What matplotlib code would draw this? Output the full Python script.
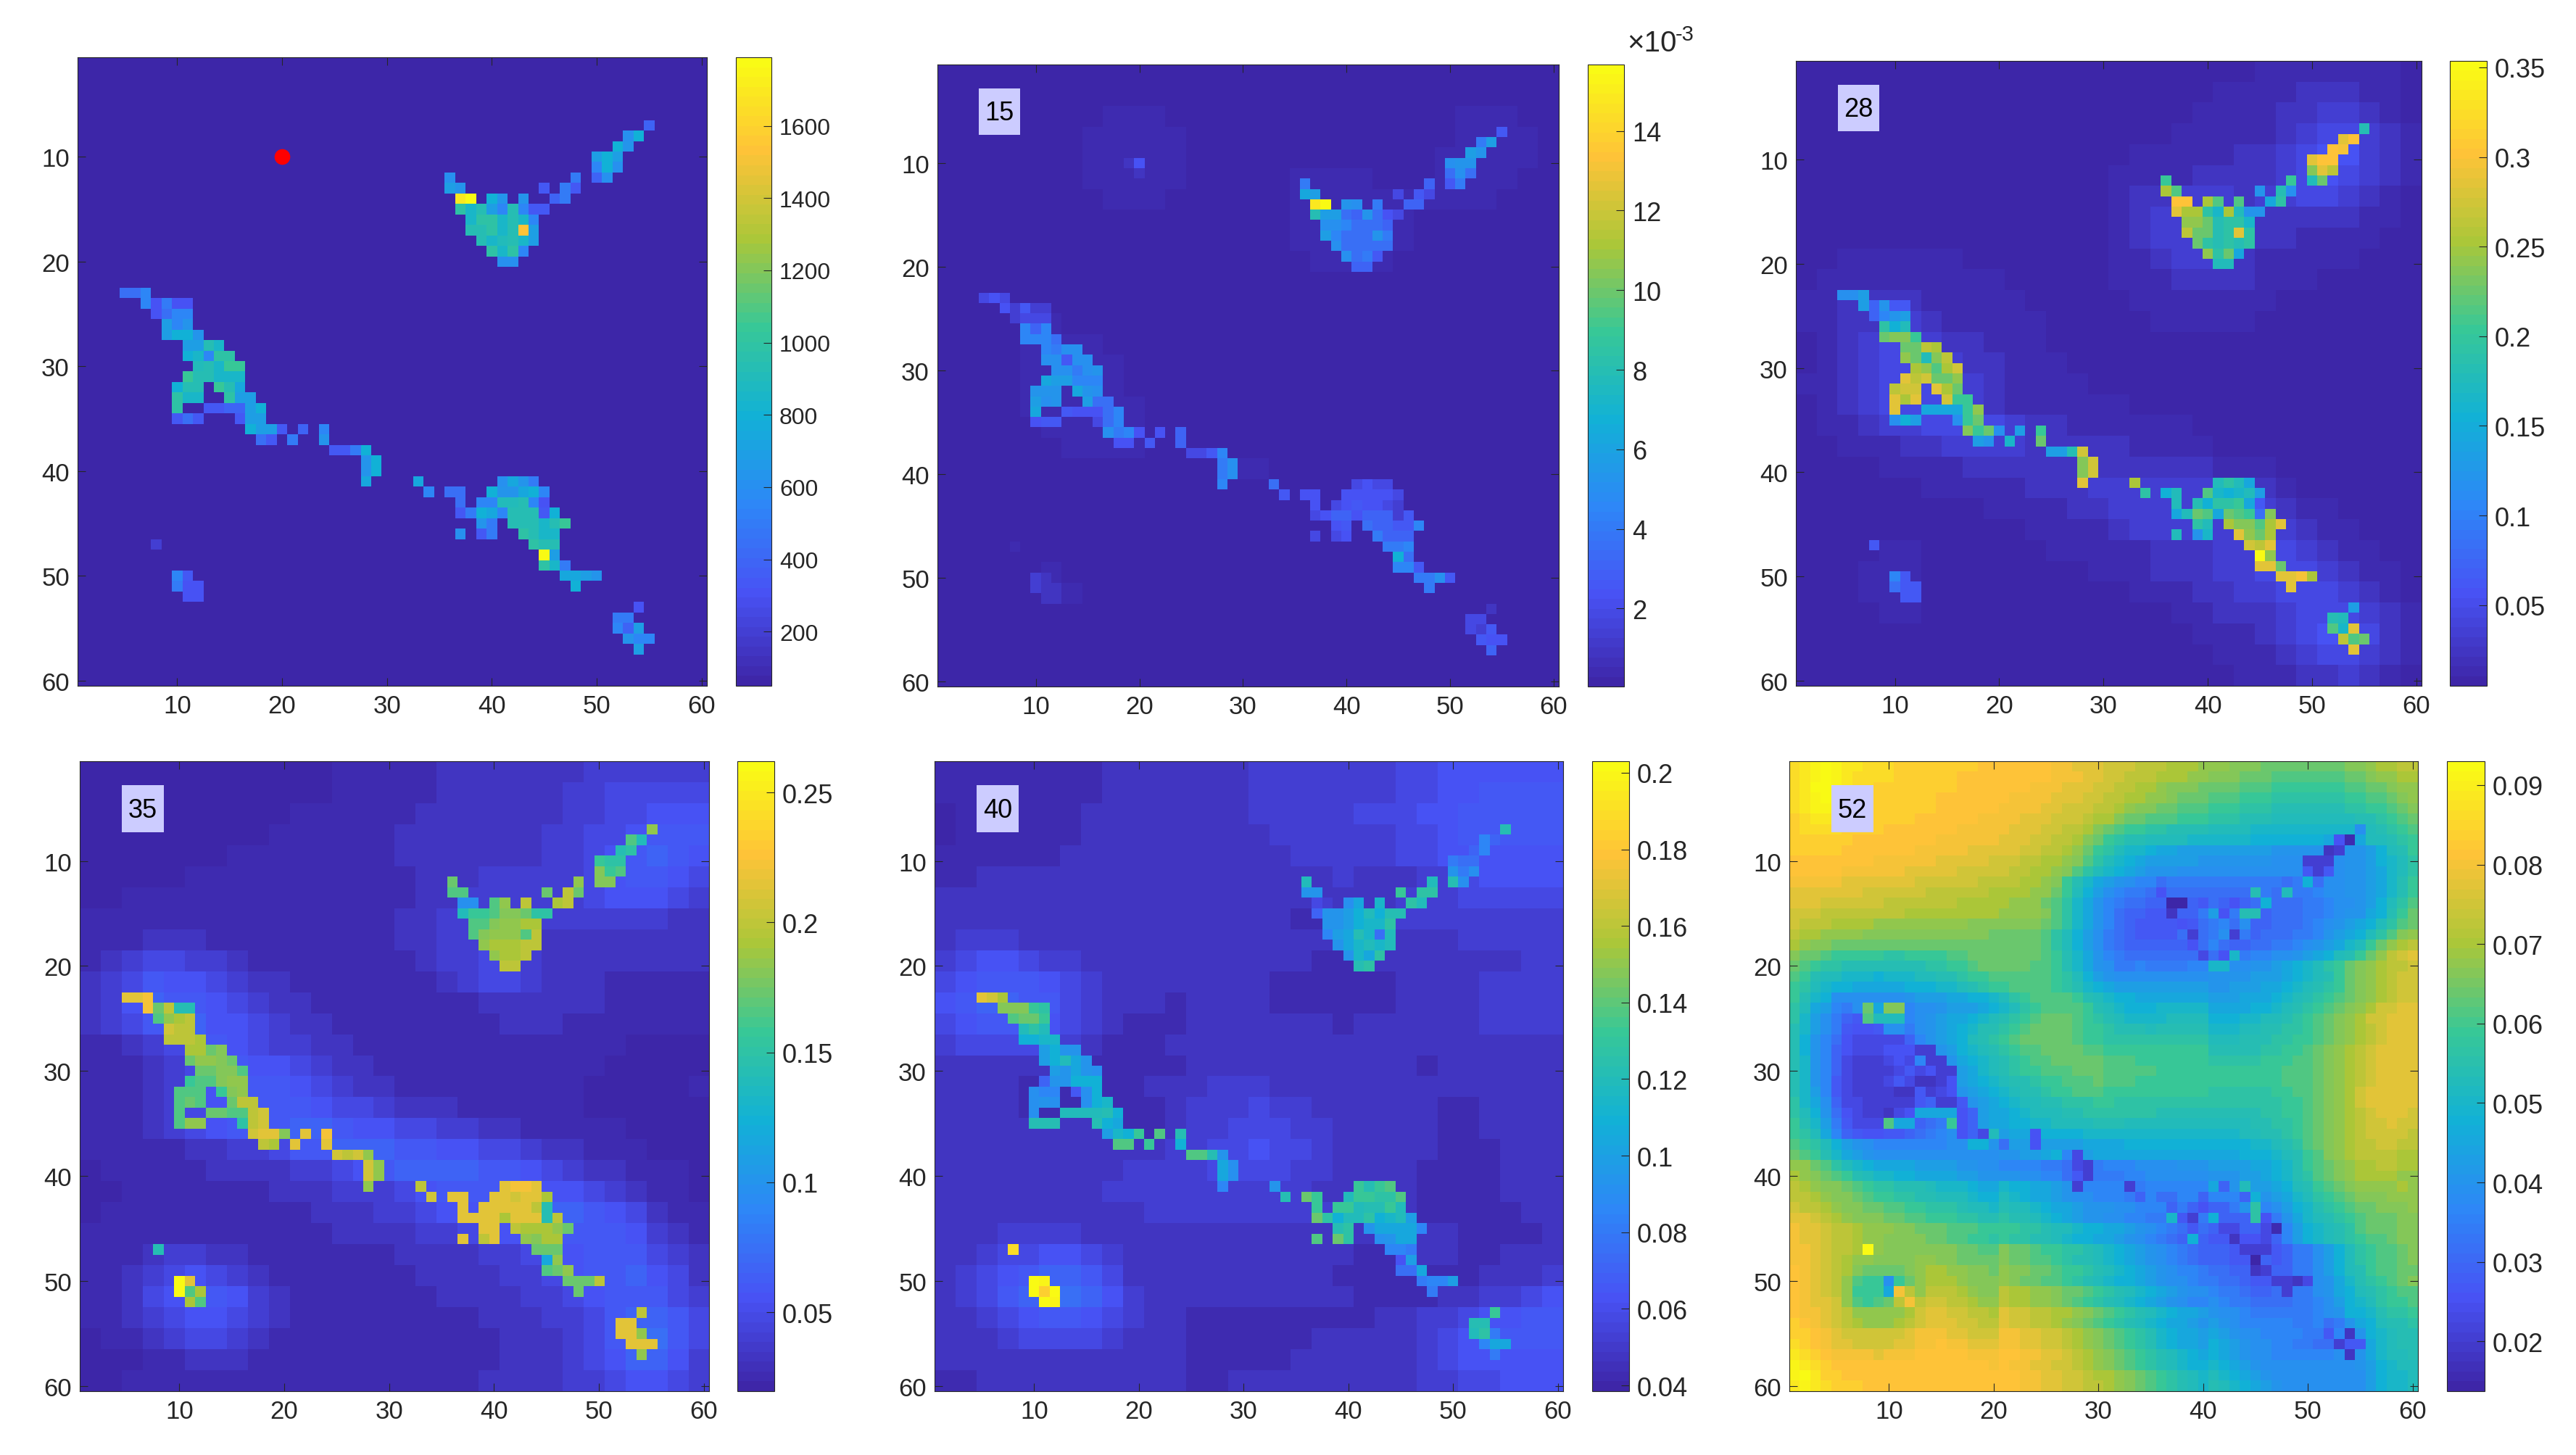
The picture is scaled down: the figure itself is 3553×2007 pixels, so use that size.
import numpy as np
import matplotlib
matplotlib.use('Agg')
import matplotlib.pyplot as plt
from matplotlib.colors import LinearSegmentedColormap
from matplotlib.patches import Rectangle

plt.rcParams['font.family'] = ['Liberation Sans', 'DejaVu Sans']

W, H = 3553, 2008
TEXT = '#262626'
LEVELS = '0123456789abcdefghijklmnopqrstuvwxyz'

# parula anchors
parula_colors = [(0.2422, 0.1504, 0.6603), (0.2810, 0.3228, 0.9579), (0.1786, 0.5289, 0.9682),
                 (0.0689, 0.6948, 0.8394), (0.2161, 0.7843, 0.5923), (0.6720, 0.7793, 0.2227),
                 (0.9970, 0.7659, 0.2199), (0.9769, 0.9839, 0.0805)]
parula = LinearSegmentedColormap.from_list('parula', parula_colors, N=64)

# the grid cells of the clusters: row -> (first column, count)
cluster_runs = {
    7: [(55, 1)], 8: [(53, 2)], 9: [(52, 2)], 10: [(50, 3)], 11: [(50, 3)],
    12: [(36, 1), (48, 1), (50, 2)], 13: [(36, 2), (45, 1), (47, 2)],
    14: [(37, 2), (40, 2), (43, 1), (46, 2)], 15: [(37, 9)], 16: [(38, 7)], 17: [(38, 7)],
    18: [(39, 6)], 19: [(40, 4)], 20: [(41, 2)], 23: [(5, 3)], 24: [(7, 5)], 25: [(8, 4)],
    26: [(9, 3)], 27: [(9, 4)], 28: [(11, 4)], 29: [(11, 5)], 30: [(12, 5)], 31: [(11, 6)],
    32: [(10, 3), (14, 3)], 33: [(10, 3), (15, 3)], 34: [(10, 1), (13, 6)],
    35: [(10, 3), (16, 3)], 36: [(17, 4), (22, 1), (24, 1)], 37: [(18, 2), (21, 1), (24, 1)],
    38: [(25, 4)], 39: [(28, 2)], 40: [(28, 2)], 41: [(28, 1), (33, 1), (41, 4)],
    42: [(34, 1), (36, 2), (40, 6)], 43: [(37, 1), (39, 7)], 44: [(37, 10)],
    45: [(39, 2), (42, 6)], 46: [(37, 1), (39, 2), (43, 4)], 47: [(8, 1), (44, 3)],
    48: [(45, 2)], 49: [(45, 3)], 50: [(10, 2), (47, 4)], 51: [(10, 3), (48, 1)],
    52: [(11, 2)], 53: [(54, 1)], 54: [(52, 2)], 55: [(52, 3)], 56: [(53, 3)], 57: [(54, 1)],
}

# cluster cell levels, one string per row of cluster_runs
cells_1 = ["7", "bf", "fc", "dfd", "afb", "b97b", "dc696", "xzfcc79", "jgidaia66", "gjjgiga", "iijgiud",
           "ighigd", "jgja", "bb", "88a", "a5955", "58aa", "dac", "dffc", "ddig", "fgajj", "higkk", "kiiggg",
           "fiikie", "jggjdd", "j6677df", "6866dd", "fdd67a", "869c", "669f", "cf", "cf", "eebec9", "a88fccefa",
           "8aahhia5", "69feaiii6f", "c9iiigik", "b69jigg", "3jii", "zd", "jg9", "a6eedc", "955f", "55", "5",
           "99", "a7d", "caa", "d"]
cells_2 = ["6", "9d", "dc", "bcc", "8b8", "9769", "ed464", "xzcb977", "idd87c854", "bba8887", "da888c9",
           "b88888", "b896", "77", "454", "53633", "3444", "a7a", "aaa8", "a9bb", "bb6bb", "bb9bc", "eddaaa",
           "cccecb", "dbcd88", "e65558a", "56648a", "b9a557", "5567", "446a", "9b", "9b", "a84544", "655555554",
           "54565543", "4577577736", "5687766a", "4459777", "199a", "f8", "aa6", "3299b6", "3229", "22", "2",
           "44", "436", "655", "7"]
cells_3 = ["i", "su", "ut", "suu", "nsq", "kkhm", "plcib", "uupllej", "sppjgphcc", "oomijjg", "qmmijsj",
           "mjijij", "ojme", "hh", "bbd", "d7c66", "7acd", "jfh", "mnnk", "mmqp", "omhnq", "polpr", "sqrmmo",
           "qrrspm", "spsrkk", "seeeeko", "bfdbkm", "nkmbdk", "dcgm", "ddir", "nr", "nr", "sphjhe", "jfhlgfghd",
           "hifjjke6", "ehmlemlk8n", "jhpnnlps", "hcgsomp", "6rqs", "zo", "ssm", "a6sstp", "866s", "66", "d",
           "ih", "lgs", "qlm", "s"]
cells_4 = ["o", "lh", "ij", "kjj", "nkl", "monn", "llmqm", "bbloqpq", "hkklnnmjj", "llnoopp", "lnooolq",
           "opppqq", "oppq", "qq", "sst", "tmqii", "lopq", "rqq", "qqqp", "ppmn", "moonm", "mmnnl", "kllnoo",
           "lllkno", "lmlmqq", "lmmllqr", "loojqr", "rssnst", "qpss", "rqro", "ro", "ro", "oqstts", "rssssrssp",
           "ssssssqi", "sssspsssiq", "ssqpppom", "sqsonpp", "immm", "eo", "lmo", "zsmmmq", "zlpm", "pl", "q",
           "ss", "sso", "sss", "o"]
cells_5 = ["i", "a7", "7a", "988", "c9b", "hhib", "cckjj", "43begjh", "7ccdfhfii", "ccdfggj", "adeig8h",
           "ceghgh", "cgej", "ij", "srp", "nnnkj", "lmmk", "hjh", "ffgg", "dfcc", "dfhec", "dcecb", "7ccfff",
           "baa6bf", "bcbbfg", "bhhhhif", "iiiife", "dgfkli", "llkf", "llic", "eb", "eb", "ackikl", "imkhkkjjl",
           "kkkhiikh", "mjfhhjfghd", "ijceeeea", "lmjbcee", "waa9", "5d", "88e", "zy9aad", "zvz9", "zy", "k",
           "ii", "hj9", "aee", "9"]
cells_6 = ["b", "51", "23", "333", "636", "88f8", "58i8h", "00685f8", "2779d59ii", "5689a8b", "8389b39",
           "58a877", "485g", "gg", "bbb", "bmenn", "lhhh", "6bb", "4447", "5533", "54a33", "64533", "642235",
           "322345", "333336", "2eeee57", "leek57", "574he5", "ff85", "efa4", "43", "63", "33e7ch", "7887aaa7f",
           "775779cj", "g639f777j5", "68447741", "8f72554", "z333", "07", "237", "bk3324", "etq3", "qt", "f",
           "89", "6a2", "366", "2"]

# background levels: 30 rows means each char is a 2x2 block, 60 rows means one cell each
back_2 = ["000000000000000000000000000000", "000000000000000000000000000000", "000000001110000000000000011100",
          "000000011111000000000000011110", "000000011111000000000000111110", "000000011111000001111000111100",
          "000000001110000001111111111000", "000000000000000001111110000000", "000000000000000001111110000000",
          "000000000000000000111100000000", "000000000000000000000000000000", "000000000000000000000000000000",
          "000011000000000000000000000000", "000011110000000000000000000000", "000011111000000000000000000000",
          "000011111000000000000000000000", "000011111100000000000000000000", "000001111100000000000000000000",
          "000000111100000000000000000000", "000000000000001100000000000000", "000000000000000000000000000000",
          "000000000000000000000000000000", "000000000000000000000000000000", "000000000000000000000000000000",
          "000001000000000000000000000000", "000001100000000000000000000000", "000000000000000000000000000000",
          "000000000000000000000000000000", "000000000000000000000000000000", "000000000000000000000000000000"]
back_3 = ["000000000000000000000011111110", "000000000000000000001111222110", "000000000000000000011112233210",
          "000000000000000000111112344321", "000000000000000011111223455321", "000000000000000111122223454321",
          "000000000000000122333233443210", "000000000000000123333322222110", "000000000000000123333222111100",
          "001111110000000112333211111000", "011111111100000111222211100000", "112222111110000011111110000000",
          "112233211111000001111100000000", "012344322111000000000000000000", "012344432211100000000000000000",
          "112344443211110000000000000000", "012344443211111100000000000000", "011233444432211111100000000000",
          "001112233332222211110000000000", "000011112222222222221110000000", "000000111112223333333221000000",
          "000000000111122333333332110000", "000000000001111233333333211000", "000011000000111112223344321100",
          "000111000000001112223344432110", "000111000000000011122334443210", "000011000000000000112223444321",
          "000000000000000000011123455421", "000000000000000000001112344321", "000000000000000000000111223210"]
back_4 = ["000000000000111112222222333333", "000000000000111112222223344444", "000000000011111122222223344555",
          "000000000111111222222233445666", "000000011111111222222233456765", "000001111111111122233333456654",
          "001111111111111122333333455543", "111111111111111223344433333322", "111222111111111223344322222222",
          "123443321111111123344322222222", "234655432211111112344322211111", "235766543221111111122222211111",
          "234667554322111111112221111111", "112345654332211111111111110000", "111234565543221111111111100000",
          "111234566654322111111111000001", "111234566665443222111111000000", "111234566677655443322111110000",
          "111112233466777665544322111000", "011111222233456777766543221110", "001111111222333456666655432110",
          "011111111112223345566677654211", "111111111111222233445566665321", "111233221111111222233445666432",
          "112345432111111122223345667542", "112456653211111112222334566643", "112345543211111111122233467764",
          "011234432111111111112223468864", "000112221111111111112223457753", "001111111111111111122223345543"]
back_5 = ["111111112222222333333344555555", "111111112222222333333344556666", "011111122222222333334445566666",
          "011111122222222233333344566666", "111111222222222223333344555555", "112222222222222222232223345555",
          "222222222222222222222233344444", "222222222222222221112233333333", "233322222222222222211222233333",
          "345543322222222222111222222233", "456665432222222211111122223333", "567766432221222211111122223333",
          "456665432111222222212222223333", "344443321112222222222222222222", "222222211111222222222221222222",
          "222211111122233322222222222222", "222211111112333433222222112222", "222222222112334443322222112222",
          "222222222223344544322222111222", "222222222333344443322221111222", "222222223333333333222221111222",
          "222222222233333333332221111122", "222333322222222222222222211112", "223445543222222222221112211222",
          "234567764222222222211111112223", "234678875322222222221111223345", "223456654322111111111223345566",
          "222344443222111111222223456666", "222222222222111112222223455555", "112222222222112222222223344555"]
back_6 = [
    "wxyzyxxwww vvvvvvvvuu uuuuuttsss rrrqqqpppo oonnnmmmmm mmmnnoppqq",
    "wxyzyxwwww vvvvvvuuuu uuuuutttss rrqqqpppoo nnnmmmllll lllmmnoopp",
    "wxzzyxwwvv vvvvvvuuuu uuutttsssr rqqpponnnm mmmlllkkkk kkkllmmnoo",
    "wxyzxwwvvv vvvvuuuuuu uttttsssrr qqppoonmmm lllkkkjjjj jjjkkllmno",
    "wxyyxwwvvv vvvvuuuuuu ttttssrrrq qponnmmlll kkkjjjiiii iiijjkklmn",
    "vwxxwwvvvv vvuuuuuutt ttsssrrrqp pnmmlllkkk jjjiiihhhh hhhhiijklm",
    "vwwwwvvvvu uuuuuutttt tsssrrqqpn mlkkjjiiii hhhhgggggg gggghhijkl",
    "vvvvvvuuuu uuuutttttt sssrrqqpnm kjiihhhhgg ggggffffff feddehhijk",
    "vvvvvuuuuu uutttttsss ssrrqqpomk jhggfeeddd ddddddcccc cccccdfhik",
    "uuuuuuuutt ttttsssssr rrqqpponlj hgfedddddc ccccccbbbb bbbccdfghj",
    "uuuuuttttt tsssssrrrr rqqpponljh gfedcccbbb bbbbbbbbbb bbbccdeghj",
    "tttttsssss ssrrrrrrqq qqpponkige dcbaa99999 9999999999 abbccdegik",
    "sssssssrrr rrrqqqqqqp pppoomkhfd ba99888888 8888899999 abbccdegik",
    "sssrrrrrrq qqqqqqpppp pooomljgec a988777777 7777888889 9abbcdfhjl",
    "rrrqqqqqqq qppppppppp oooonljgec a877666666 6677778889 9abccefikm",
    "rqqqppppoo ooooooonnn nnnnmljgec a876666666 6677778889 abcdefhjlm",
    "qppoooonnn nnnnnnnnnm mmmmljhfdb 9876666666 6777788899 acdefhjlno",
    "ponnmmmmmm mmmmmmmmmm mmmmljhfdb 9877777777 77888899ab cdeghkmopq",
    "nmmlkkkkkj jkkkkllmmm mmmmlkigec a988888888 8899aabbcd efhikmoqrs",
    "mlkjjiiiii iiijjkklmm mmmllkigec b99a9999aa bbbbccdefg hjkmnopqqr",
    "lkihhgggfg gghhiijkkl lllllkjhfd cbbbbbbbbb ccccdddefg hikmnopqrr",
    "kjhgffeeee efffgghijk kllllkjigf eddddddddd ccdddeefgh ijkmnopqrr",
    "kigfedcbbb bcdddeeffg hjkllllkih gffeeeeeee dddeeefghi jklmnopqrr",
    "jheda98888 9abbcdddef ghjkllllki hgfffggggg eeeeffghij klmnoprrss",
    "jgdb976667 8abcdeefgh ijklmmmlkj ihgggghhhh fffgghhijk lmnoprrsss",
    "igdb965556 79bcdefgii jklmmmmlkk jiiihiiiii ggghhiijjk lmnopqrsss",
    "ifca854445 68acdefhij klmmmmmlkk jjjjjjjjjj hhhiiijjkk lmnopqrsss",
    "ifca754445 579bcdfghi jkllmmmmll kkkkkkkkkk iiiiijjkkl mnopqrssss",
    "igca743334 568abcefgh ijkllmmmmm lllkkkkkkk jjjjjkkkll mnopqrssss",
    "igca743333 4579bcdegh ijkklllmmm lllllkkkkk kkkkkkklll mnopqrssss",
    "igca643334 4679bcdefg hiijkklllm lllkkkkkkk kkkkkkklll mnopqrssss",
    "igda643334 4568abcdef ghiijkklll kkkkkkkkkk jjjjjjkkll mnoprsssss",
    "jgeb744333 45679abcde fghhiijjjk kjjjjjjjjj jjjjjjjkkl mnoprsssss",
    "jhfc854333 45679abcde efghhhiijj jjjjjiiiii iiiiijjkkl mnopqrsssr",
    "kigd964444 56789abcde effgghhhhi iihhhhhhhh hhhhiijjkl mnopqrrsrr",
    "kjhea76556 6789abbccd deeeffffgg gggggggggg ggghhiijkl mnopqrrrrq",
    "lkjhfdcbaa aaaaabbbcc cdddddddee eeffffffff ffffgghijl mnopqqrrqq",
    "mlkigedcbb bbbbbbbbbb ccddddddde eeeeeeeeee eeefffghik lnopqqqqpp",
    "oomljhgfee eeddddccbb aaaa998899 aaabbbbccc ddddeefgik lmnoppqqpp",
    "ponmlkihgg ffeeeeddcc ccbbaa8889 99aabbbbbb cccddefgij lmnoppppoo",
    "qponnmlkjj iiihgggfee gffeedcbaa aa99aaaaaa bbccddefhi klmnoooopo",
    "qqponnmlkk jjiihhhgff hgfeedcbba aa99aaaaaa aabbccdegh jklmnnnooo",
    "rqqponnmml lkkjjjihhg ihhgfeedcc cbbaaa9999 9999aabdfg ijklmmnnno",
    "ssrqponnnm mllkkkjjii jiihgfedcc bbaa998888 8888899ceg hijklmmmnn",
    "tssrqqpooo nnmmmlllkk kkjjihhgff eedcba9877 7777778adf ghijlmmmnn",
    "tssrqqpoon nnnmmllkkj kjjiihgffe edcba98776 6666667adf ghijkllmnn",
    "ttsrqqpoon nnnnnnmmll nmmlkkjjih gfedcba987 7766556799 bdfhjkllmn",
    "ttsrqpoonn nnoonnmmmm nmmllkjiih gfedcba987 7766556799 bdfhjkllmn",
    "utsrqpnmmm mnoppoonnm onnmmlkkji hgfedcbaa9 8877667799 bdfhikllmm",
    "utsrqolkkk lmoppponnn onmmllkjih gffedcbba9 9887667799 bcegijklmn",
    "utsrqokkkk lnoqqqponn qppoonmmlk jihgfedcbb a998778899 bcefhijkll",
    "utssrolklm npqrrqqpoo qppoonmlkj ihgfedcbaa ba99888899 abdfghjkkl",
    "uttsrqoooo oprssrrqqp srrqqpponm lkjihgfeed cbba999999 abcdfgijjk",
    "vutsrqpooo pqrsssrrqq srrqqponml kjihgfeedc dcbaaaaa99 aabcefhiij",
    "vvutsrrrrr rstttssrrr ttssrrqpon mlkjigfeed edcbbaaaa9 99abcfghii",
    "wvutssrrrr ssttuttsss ttssrrqpon mlkjigfeed fedcbbaa99 889bceghii",
    "xwvuttttst ttuuuuuttt uuttssrqpo nmlkjihgfe fedcbbaaaa aabbceghhi",
    "yxwvuuuuuu uuuuuuuuut uttssrrqpo nmlkjihgff gfedcbbbbb bbbbcdfghh",
    "yzxvvuuuuu uuuuuuuuuu uuttssrrqp ponmlkjihg hgfedcbbbb bbbbbdfggh",
    "xyxwvvvuuu uuuuuuuuuu uuttssrrqq ponmlkjihg ihgfedcbbb bbbbbdfggh",
]

# faint spot in panel 2: (row, column, level)
spot_2 = [(10, 20, '5'), (10, 19, '2'), (10, 21, '1'), (9, 20, '1'), (11, 20, '2')]

color_limits = [(50, 1790), (0.04e-3, 15.67e-3), (0.005, 0.3536), (0.0196, 0.262), (0.0385, 0.203), (0.01374, 0.093)]
panel_labels = [None, '15', '28', '35', '40', '52']
ticks_1 = [200, 400, 600, 800, 1000, 1200, 1400, 1600]
ticks_2 = [2e-3, 4e-3, 6e-3, 8e-3, 10e-3, 12e-3, 14e-3]
ticks_3 = [0.05, 0.1, 0.15, 0.2, 0.25, 0.3, 0.35]
ticks_4 = [0.05, 0.1, 0.15, 0.2, 0.25]
ticks_5 = [0.04, 0.06, 0.08, 0.1, 0.12, 0.14, 0.16, 0.18, 0.2]
ticks_6 = [0.02, 0.03, 0.04, 0.05, 0.06, 0.07, 0.08, 0.09]
labels_2 = ['2', '4', '6', '8', '10', '12', '14']
axis_ticks = [10, 20, 30, 40, 50, 60]
marked_point = (20, 10)

# pixel boxes: left, right, top, bottom of image and colorbar
panel_boxes = [(107, 975, 80, 947, 1015, 1064), (1293, 2150, 90, 948, 2190, 2240), (2477, 3340, 85, 947, 3379, 3430),
               (110, 978, 1051, 1920, 1017, 1068), (1289, 2156, 1051, 1920, 2196, 2247),
               (2468, 3335, 1051, 1920, 3375, 3427)]


def build_grid(cells, back=None):
    grid = np.zeros((60, 60))
    if back is not None:
        size = 60 // len(back)
        for i, row in enumerate(back):
            row = row.replace(' ', '')
            row = row.ljust(60 // size, row[-1])[:60 // size]
            for j, ch in enumerate(row):
                grid[size * i:size * i + size, size * j:size * j + size] = LEVELS.index(ch)
    for row, text in zip(cluster_runs, cells):
        cols = []
        for start, count in cluster_runs[row]:
            cols += list(range(start, start + count))
        if len(cols) != len(text):
            print('length mismatch in row', row, text)
        for col, ch in zip(cols, text):
            grid[row - 1, col - 1] = LEVELS.index(ch)
    return grid / 35


def to_fig(left, right, top, bottom):
    return [left / W, 1 - bottom / H, (right - left) / W, (bottom - top) / H]


fig = plt.figure(figsize=(W / 200, H / 200), dpi=200)

grids = [build_grid(cells_1), build_grid(cells_2, back_2), build_grid(cells_3, back_3),
         build_grid(cells_4, back_4), build_grid(cells_5, back_5), build_grid(cells_6, back_6)]
for row, col, ch in spot_2:
    grids[1][row - 1, col - 1] = LEVELS.index(ch) / 35

all_ticks = [ticks_1, ticks_2, ticks_3, ticks_4, ticks_5, ticks_6]

for n in range(6):
    left, right, top, bottom, cleft, cright = panel_boxes[n]
    vmin, vmax = color_limits[n]
    values = vmin + grids[n] * (vmax - vmin)

    ax = fig.add_axes(to_fig(left, right, top, bottom))
    im = ax.imshow(values, cmap=parula, vmin=vmin, vmax=vmax, aspect='auto', interpolation='nearest',
                   extent=(0.5, 60.5, 60.5, 0.5))
    ax.set_xticks(axis_ticks)
    ax.set_yticks(axis_ticks)
    ax.tick_params(direction='in', length=4, width=0.4, top=True, right=True, labelsize=12.5,
                   colors=TEXT, pad=4)
    for s in ax.spines.values():
        s.set_linewidth(0.4)
        s.set_color(TEXT)

    if panel_labels[n]:
        ax.add_patch(Rectangle((4.5, 2.8), 4.0, 4.45, facecolor='#ccccff', edgecolor='none', zorder=3))
        ax.text(6.5, 5.15, panel_labels[n], ha='center', va='center', fontsize=13, color='black', zorder=4)

    cax = fig.add_axes(to_fig(cleft, cright, top, bottom))
    cb = fig.colorbar(im, cax=cax)
    cb.set_ticks(all_ticks[n])
    if n == 1:
        cb.set_ticklabels(labels_2)
    else:
        cb.set_ticklabels(['%g' % t for t in all_ticks[n]])
    cb.ax.tick_params(direction='in', length=4, width=0.4, labelsize=11.5 if n == 0 else 13,
                      colors=TEXT, pad=4)
    cb.outline.set_linewidth(0.4)
    cb.outline.set_edgecolor(TEXT)

    if n == 0:
        ax.plot([marked_point[0]], [marked_point[1]], 'o', color='red', markersize=7.8, markeredgewidth=0, zorder=5)

# exponent above the second colorbar
fig.text(2244 / W, 1 - 71 / H, '\u00d710', fontsize=14.5, color=TEXT, ha='left', va='baseline')
fig.text(2311 / W, 1 - 56 / H, '-3', fontsize=10.5, color=TEXT, ha='left', va='baseline')

fig.savefig('out.png', dpi=200)
